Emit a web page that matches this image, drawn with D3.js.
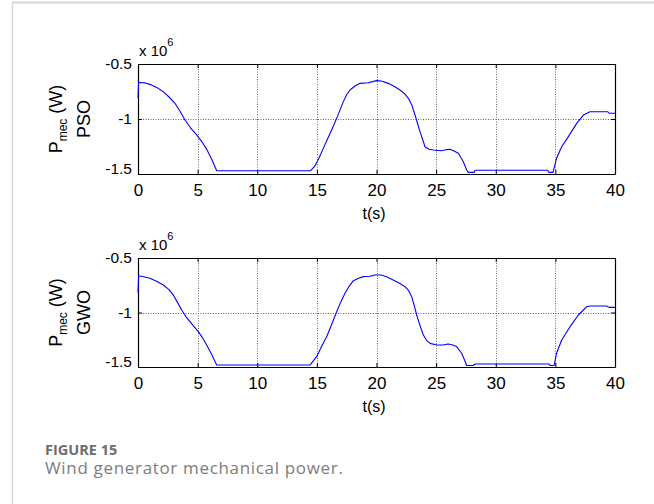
<!DOCTYPE html>
<html>
<head>
<meta charset="utf-8">
<script src="https://cdn.jsdelivr.net/npm/d3@7/dist/d3.min.js"></script>
<style>
  html, body { margin: 0; padding: 0; background: #fff; }
  svg { display: block; }
</style>
</head>
<body>
<svg id="chart" width="654" height="504"></svg>
<script>
// Mechanical power of the wind generator (x 10^6 W) over time (s)
const timePSO = [0, 0.05, 0.6, 1.0, 1.6, 2.12, 2.6, 3.1, 3.5, 3.94, 4.4, 4.92, 5.35, 5.76, 6.2, 6.6,
  14.48, 14.84, 15.2, 15.54, 15.9, 16.24, 16.66, 17.22, 17.5, 17.78, 18.2, 18.62, 19.3, 19.7, 20.0, 20.4,
  20.99, 21.5, 21.97, 22.35, 22.67, 22.95, 23.23, 23.65, 24.07, 24.4, 24.76, 25.46, 25.8, 26.16, 26.5,
  26.86, 27.28, 27.56, 27.7, 28.2, 28.26, 34.35, 34.45, 34.8, 35.1, 35.53, 36.09, 36.79, 37.35, 37.9,
  39.4, 39.5, 40];
const powerPSO = [-0.81, -0.668, -0.672, -0.685, -0.715, -0.752, -0.80, -0.857, -0.925, -1.009, -1.08, -1.145, -1.205, -1.276, -1.37, -1.47,
  -1.47, -1.427, -1.35, -1.267, -1.18, -1.1, -0.994, -0.842, -0.78, -0.736, -0.70, -0.676, -0.670, -0.66, -0.651, -0.655,
  -0.676, -0.705, -0.736, -0.77, -0.812, -0.87, -0.964, -1.115, -1.252, -1.275, -1.282, -1.288, -1.28, -1.276, -1.29,
  -1.312, -1.388, -1.464, -1.485, -1.485, -1.466, -1.466, -1.485, -1.485, -1.357, -1.252, -1.16, -1.04, -0.964, -0.934,
  -0.934, -0.948, -0.948];

const timeGWO = [0, 0.05, 0.3, 1.0, 1.6, 2.12, 2.6, 2.96, 3.3, 3.66, 4.0, 4.36, 4.7, 5.06, 5.4, 5.76, 6.2, 6.6,
  14.42, 14.98, 15.4, 15.82, 16.24, 16.66, 17.0, 17.36, 17.7, 18.06, 18.5, 18.9, 19.45, 19.87, 20.4,
  20.9, 21.4, 21.9, 22.39, 22.7, 22.95, 23.15, 23.37, 23.65, 23.93, 24.2, 24.49, 25.05, 25.6, 26.0, 26.4,
  26.72, 27.14, 27.4, 27.56, 28.1, 28.26, 34.45, 34.55, 34.9, 35.1, 35.53, 36.23, 36.93, 37.63, 37.9,
  39.3, 39.5, 40];
const powerGWO = [-0.818, -0.665, -0.668, -0.686, -0.715, -0.748, -0.79, -0.839, -0.905, -0.977, -1.035, -1.084, -1.13, -1.176, -1.23, -1.298, -1.39, -1.482,
  -1.482, -1.405, -1.31, -1.222, -1.11, -0.993, -0.905, -0.824, -0.76, -0.708, -0.685, -0.671, -0.668, -0.656, -0.656,
  -0.675, -0.702, -0.73, -0.763, -0.80, -0.855, -0.93, -1.023, -1.12, -1.206, -1.255, -1.283, -1.298, -1.298, -1.289, -1.298,
  -1.313, -1.374, -1.44, -1.486, -1.486, -1.472, -1.472, -1.486, -1.486, -1.374, -1.252, -1.13, -1.023, -0.947, -0.94,
  -0.94, -0.953, -0.953];

const xTicks = [0, 5, 10, 15, 20, 25, 30, 35, 40];
const yTicks = [-0.5, -1, -1.5];
const yTickLabels = ["-0.5", "-1", "-1.5"];
const methodNames = ["PSO", "GWO"];

const svg = d3.select("#chart");
const FONT = "'Liberation Sans', Arial, Helvetica, sans-serif";

// figure frame
svg.append("line").attr("x1", 12).attr("x2", 654).attr("y1", 2.5).attr("y2", 2.5)
  .attr("stroke", "#d6d6d6").attr("stroke-width", 2);
svg.append("line").attr("x1", 12.5).attr("x2", 12.5).attr("y1", 2).attr("y2", 504)
  .attr("stroke", "#d6d6d6").attr("stroke-width", 1.5);

const left = 138, right = 615;
const panels = [
  { top: 64, bottom: 174, name: methodNames[0], t: timePSO, p: powerPSO },
  { top: 258, bottom: 367, name: methodNames[1], t: timeGWO, p: powerGWO }
];

const x = d3.scaleLinear().domain([0, 40]).range([left, right]);

panels.forEach(pn => {
  const y = d3.scaleLinear().domain([-1.5, -0.5]).range([pn.bottom, pn.top]);
  const g = svg.append("g");

  // dotted grid
  const grid = g.append("g").attr("class", "grid");
  grid.selectAll("line.gx").data(xTicks.slice(1, -1)).join("line")
    .attr("x1", d => Math.round(x(d)) + 0.5).attr("x2", d => Math.round(x(d)) + 0.5)
    .attr("y1", pn.top).attr("y2", pn.bottom);
  grid.selectAll("line.gy").data([-1]).join("line")
    .attr("x1", left).attr("x2", right)
    .attr("y1", d => Math.round(y(d)) + 0.5).attr("y2", d => Math.round(y(d)) + 0.5);
  grid.selectAll("line").attr("stroke", "#666").attr("stroke-width", 1)
    .attr("stroke-dasharray", "1,1.5");

  // inward ticks on all four sides
  const axB = g.append("g").attr("transform", `translate(0,${pn.bottom})`)
    .call(d3.axisBottom(x).tickValues(xTicks).tickSize(-4).tickSizeOuter(0).tickPadding(10));
  const axT = g.append("g").attr("transform", `translate(0,${pn.top})`)
    .call(d3.axisTop(x).tickValues(xTicks).tickSize(-4).tickSizeOuter(0).tickFormat(""));
  const axL = g.append("g").attr("transform", `translate(${left},0)`)
    .call(d3.axisLeft(y).tickValues(yTicks).tickSize(-4).tickSizeOuter(0).tickPadding(6)
      .tickFormat((d, i) => yTickLabels[i]));
  const axR = g.append("g").attr("transform", `translate(${right},0)`)
    .call(d3.axisRight(y).tickValues(yTicks).tickSize(-4).tickSizeOuter(0).tickFormat(""));

  [axB, axT, axL, axR].forEach(a => {
    a.selectAll("path.domain").attr("stroke", "#000").attr("stroke-width", 1.2);
    a.selectAll(".tick line").attr("stroke", "#000").attr("stroke-width", 1);
  });
  axB.selectAll("text").attr("font-family", FONT).attr("font-size", 17).attr("fill", "#000")
    .attr("dy", "0.71em");
  axL.selectAll("text").attr("font-family", FONT).attr("font-size", 15.5).attr("fill", "#000")
    .attr("dy", (d) => d === -1.5 ? "-0.05em" : "0.32em");

  // data curve
  const pts = pn.t.map((t, i) => [t, pn.p[i]]);
  g.append("path").datum(pts)
    .attr("d", d3.line().x(d => x(d[0])).y(d => y(d[1])))
    .attr("fill", "none").attr("stroke", "#0000ff").attr("stroke-width", 1.1)
    .attr("stroke-linejoin", "round");

  // exponent label
  const ex = g.append("text").attr("x", left + 1).attr("y", pn.top - 8.5)
    .attr("font-family", FONT).attr("font-size", 15).attr("fill", "#000");
  ex.append("tspan").text("x 10");
  ex.append("tspan").attr("dy", -10).attr("font-size", 11).text("6");

  // x label
  g.append("text").attr("x", 374).attr("y", pn.bottom + 44.5)
    .attr("text-anchor", "middle").attr("font-family", FONT).attr("font-size", 16)
    .attr("fill", "#000").text("t(s)");

  // y label (two lines, rotated)
  const cy = (pn.top + pn.bottom) / 2;
  const yl = g.append("text").attr("transform", `translate(62,${cy}) rotate(-90)`)
    .attr("text-anchor", "middle").attr("font-family", FONT).attr("font-size", 18).attr("fill", "#000");
  yl.append("tspan").text("P");
  yl.append("tspan").attr("dy", 5).attr("font-size", 12).text("mec");
  yl.append("tspan").attr("dy", -5).text(" (W)");
  g.append("text").attr("transform", `translate(90,${cy}) rotate(-90)`)
    .attr("text-anchor", "middle").attr("font-family", FONT).attr("font-size", 18).attr("fill", "#000")
    .text(pn.name);
});

// caption
svg.append("text").attr("x", 45).attr("y", 455)
  .attr("font-family", "'Open Sans', sans-serif").attr("font-weight", 700).attr("font-size", 14.5)
  .attr("fill", "#6d6d6d").text("FIGURE 15");
const capText = "Wind generator mechanical power.";
const cap = svg.append("text").attr("x", 45).attr("y", 474)
  .attr("font-family", "'Open Sans', sans-serif").attr("font-size", 17)
  .attr("fill", "#7d7d7d").text(capText);
const wCap = cap.node().getComputedTextLength();
cap.attr("letter-spacing", Math.max(0, (298 - wCap) / (capText.length - 1)).toFixed(2));
</script>
</body>
</html>
